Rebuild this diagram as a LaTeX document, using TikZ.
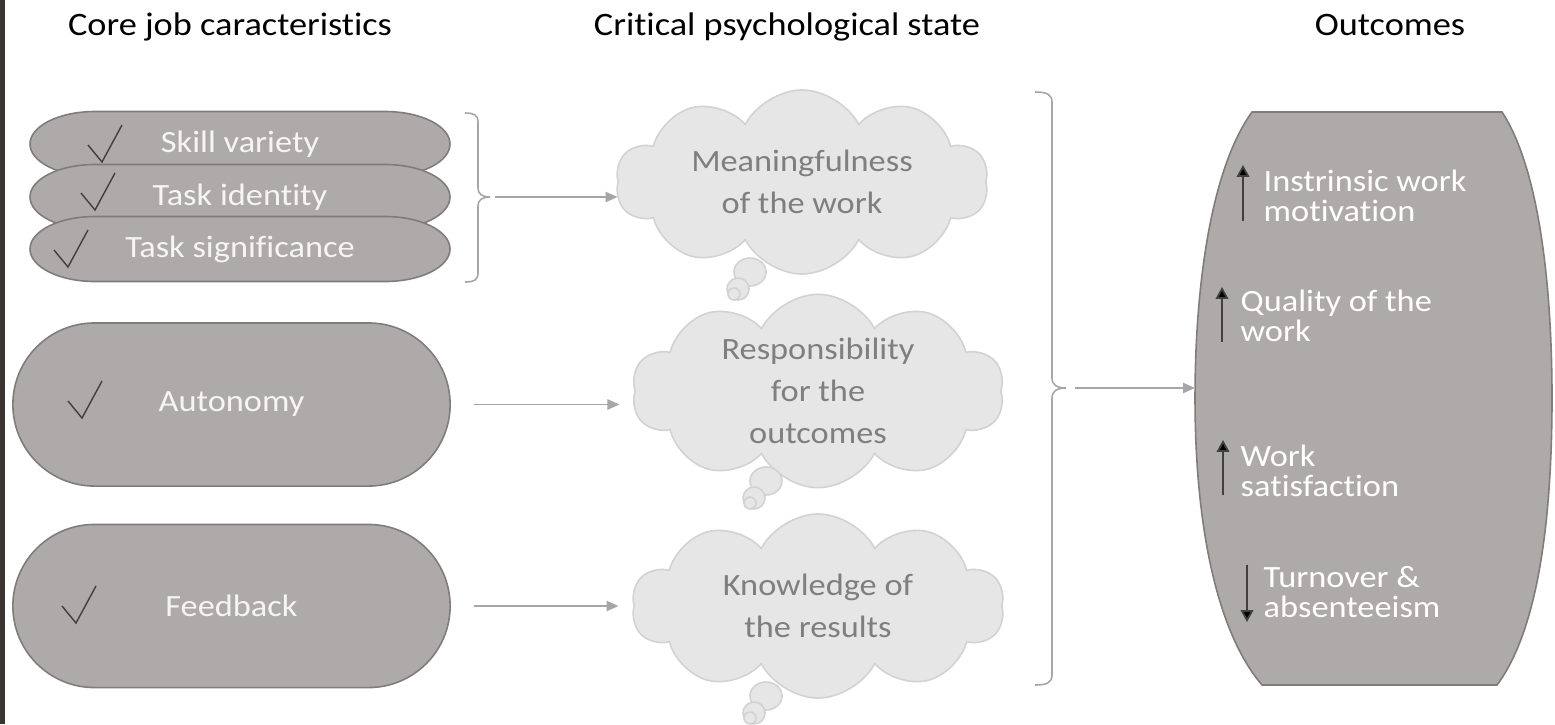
\documentclass[tikz,border=0pt]{standalone}
\usepackage{fontspec}
\setmainfont{Carlito}[FakeStretch=1.11, Ligatures={NoCommon,NoContextual,NoRare}, Contextuals=NoAlternate]
\usepackage{tikz}
\usetikzlibrary{arrows.meta, positioning, shapes.symbols, shapes.misc, calc}

\definecolor{pillgray}{HTML}{AEAAAA}
\definecolor{pillline}{HTML}{817C7C}
\definecolor{cloudfill}{HTML}{E7E6E6}
\definecolor{cloudline}{HTML}{D3D1D1}
\definecolor{cloudtext}{HTML}{7F7F7F}
\definecolor{conngray}{HTML}{A6A6A6}
\definecolor{tickgray}{HTML}{404040}
\definecolor{edgestrip}{HTML}{3B3532}

\begin{document}
\begin{tikzpicture}[
  x=0.01cm, y=-0.01cm,
  >=Stealth,
  header/.style={anchor=base, font=\fontsize{9.3}{11}\selectfont, text=black},
  pill/.style={draw=pillline, fill=pillgray, line width=0.45pt},
  pilltext/.style={text=white!96!black, font=\fontsize{8.8}{10.5}\selectfont, inner sep=0pt},
  bigpill/.style={pill, rounded rectangle, minimum width=4.37cm, minimum height=1.63cm, pilltext},
  thought/.style={cloud, cloud puffs=10, cloud puff arc=125, cloud ignores aspect,
    draw=cloudline, fill=cloudfill, line width=0.45pt, text=cloudtext, align=center,
    minimum width=3.72cm, minimum height=1.84cm, inner sep=0pt, font=\fontsize{8.8}{11.95}\selectfont},
  bubble/.style={draw=cloudline, fill=cloudfill, line width=0.45pt},
  conn/.style={-{Triangle[length=3.4pt, width=2.9pt]}, draw=conngray, line width=0.55pt},
  brace/.style={draw=conngray, line width=0.45pt},
  outtext/.style={anchor=west, align=left, text=white, inner sep=0pt, font=\fontsize{8.8}{8.5}\selectfont},
  trend/.style={-{Triangle[length=3.4pt, width=3.6pt, fill=black]}, draw=tickgray, line width=0.5pt},
  checkmark/.pic={\draw[tickgray, line width=0.4pt] (-14,-17) -- (0,0) -- (20,-37);},
]

% canvas
\useasboundingbox (0,0) rectangle (1555,724);
\fill[white] (0,0) rectangle (1555,724);
\fill[edgestrip] (0,0) rectangle (5,724);

% column headers
\node[header] (hjob) at (230,35) {Core job caracteristics};
\node[header] (hpsy) at (787,35) {Critical psychological state};
\node[header] (hout) at (1390,35) {Outcomes};

% stacked job characteristics
\foreach \y/\vx/\vy/\txt/\nm in {144/102/162/Skill variety/sv, 197/95/210/Task identity/ti, 249/68/267/Task significance/ts} {
  \draw[pill] (95,\y-32.5) -- (385,\y-32.5)
    arc[start angle=-90, end angle=90, x radius=65, y radius=32.5]
    -- (95,\y+32.5)
    arc[start angle=90, end angle=270, x radius=65, y radius=32.5] -- cycle;
  \node[pilltext] (\nm) at (240,\y) {\txt};
  \pic at (\vx,\vy) {checkmark};
}

\node[bigpill] (auto) at (231.5,404.5) {Autonomy};
\node[bigpill] (feed) at (231.5,606) {Feedback};
\pic at (82,418) {checkmark};
\pic at (76,623) {checkmark};

% psychological states
\node[thought] (mean) at (802,182) {Meaningfulness\\of the work};
\node[thought] (resp) at (818,391) {Responsibility\\for the\\outcomes};
\node[thought] (know) at (818,606) {Knowledge of\\the results};
\foreach \c in {mean, resp, know} {
  \draw[bubble] ($(\c.center)+(-52,90)$) ellipse[x radius=16, y radius=14];
  \draw[bubble] ($(\c.center)+(-64,107)$) circle[radius=11];
  \draw[bubble] ($(\c.center)+(-68,112)$) circle[radius=6];
}

% braces
\coordinate (jobtip) at (490,197);
\draw[brace] (465,113) .. controls (474,113) and (478,115) .. (478,122) -- (478,188)
  .. controls (478,194) and (482,197) .. (jobtip)
  .. controls (482,197) and (478,200) .. (478,206) -- (478,273)
  .. controls (478,280) and (474,282) .. (465,282);
\coordinate (psytip) at (1066,388);
\draw[brace] (1035,92) .. controls (1046,92) and (1052,94) .. (1052,102) -- (1052,378)
  .. controls (1052,385) and (1057,388) .. (psytip)
  .. controls (1057,388) and (1052,391) .. (1052,398) -- (1052,675)
  .. controls (1052,683) and (1046,685) .. (1035,685);

% outcomes barrel
\draw[pill] (1252,112) -- (1502,112) .. controls (1540,170) and (1552,290) .. (1552,398)
  .. controls (1552,520) and (1538,630) .. (1497,685) -- (1262,685)
  .. controls (1215,630) and (1195,520) .. (1195,398)
  .. controls (1195,290) and (1210,170) .. (1252,112) -- cycle;
\coordinate (outc) at (1195,388);

% connectors
\draw[conn, shorten <=0.05cm] (jobtip) -- (jobtip -| mean.west);
\draw[conn, shorten <=0.23cm, shorten >=0.15cm] (auto.east) -- (auto.east -| resp.west);
\draw[conn, shorten <=0.23cm, shorten >=0.15cm] (feed.east) -- (feed.east -| know.west);
\draw[conn, shorten <=0.09cm] (psytip) -- (outc);

% outcome items
\node[outtext] (iwm) at (1263,196) {Instrinsic work\\motivation};
\node[outtext] (qow) at (1240,316) {Quality of the\\work};
\node[outtext] (wsf) at (1240,471) {Work\\satisfaction};
\node[outtext] (tab) at (1263,592) {Turnover \&\\absenteeism};
\draw[trend] ($(iwm.west)+(-20,25)$) -- ($(iwm.west)+(-20,-31)$);
\draw[trend] ($(qow.west)+(-18,26)$) -- ($(qow.west)+(-18,-29)$);
\draw[trend] ($(wsf.west)+(-17,24)$) -- ($(wsf.west)+(-17,-31)$);
\draw[trend] ($(tab.west)+(-16,-27)$) -- ($(tab.west)+(-16,30)$);

\end{tikzpicture}
\end{document}
